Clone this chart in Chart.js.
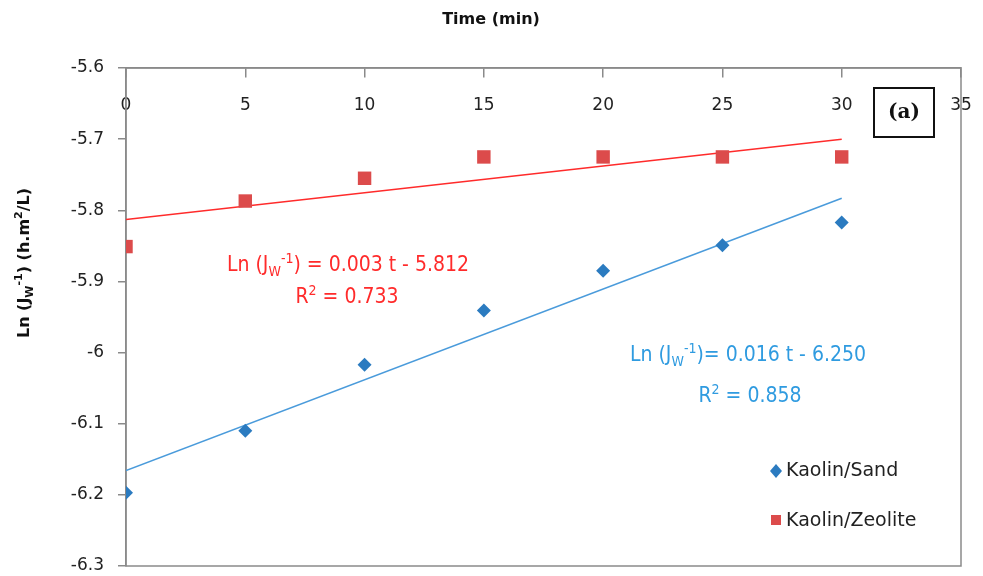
<!DOCTYPE html>
<html>
<head>
<meta charset="utf-8">
<script src="https://cdn.jsdelivr.net/npm/chart.js@4.4.1/dist/chart.umd.min.js"></script>
<style>
  html, body { margin: 0; padding: 0; background: #fff; }
</style>
</head>
<body>
<canvas id="chart" width="983" height="576"></canvas>
<script>
// --- Data ---
const timeMin = [0, 5, 10, 15, 20, 25, 30];
const kaolinSand = [-6.197, -6.110, -6.017, -5.941, -5.885, -5.849, -5.817];
const kaolinZeolite = [-5.851, -5.787, -5.755, -5.725, -5.725, -5.725, -5.725];

// trend line ends at t = 0 and t = 30
const trendTimes = [0, 30];
const sandTrend = [-6.166, -5.783];
const zeoliteTrend = [-5.813, -5.700];

const xTickStep = 5;
const yTickStep = 0.1;

// --- Styles ---
const AXIS_GREY = '#8a8a8a';
const SAND_BLUE = '#2b7bc0';
const SAND_LINE = '#4a9bdb';
const ZEO_RED = '#dc4b4b';
const ZEO_LINE = '#ff2b2b';
const TICK_FONT = { family: '"DejaVu Sans", sans-serif', size: 17 };
const NOTE_FAMILY = '"Liberation Sans Narrow", "DejaVu Sans Condensed", "Liberation Sans", sans-serif';

const toPoints = (xs, ys) => xs.map((x, i) => ({ x: x, y: ys[i] }));

// scales should not push the plot area in; the page padding does the placing
const noScalePadding = scale => {
    scale.paddingLeft = 0;
    scale.paddingRight = 0;
    scale.paddingTop = 0;
    scale.paddingBottom = 0;
};

// draws text with _sub and ^sup pieces, centred on cx
function drawRich(ctx, parts, cx, cy, size, family, weight, color) {
    const fontFor = p => `${weight} ${(p.sub || p.sup) ? Math.round(size * 0.66) : size}px ${family}`;
    const widths = parts.map(p => { ctx.font = fontFor(p); return ctx.measureText(p.t).width; });
    const total = widths.reduce((a, b) => a + b, 0);
    let x = cx - total / 2;
    ctx.fillStyle = color;
    ctx.textAlign = 'left';
    ctx.textBaseline = 'middle';
    parts.forEach((p, i) => {
        ctx.font = fontFor(p);
        const dy = p.sub ? size * 0.32 : p.sup ? -size * 0.34 : 0;
        ctx.fillText(p.t, x, cy + dy);
        x += widths[i];
    });
}

const decorations = {
    id: 'decorations',
    beforeDatasetsDraw(chart) {
        const { ctx, chartArea: a } = chart;
        ctx.save();
        ctx.strokeStyle = AXIS_GREY;
        ctx.lineWidth = 1.5;
        ctx.strokeRect(a.left, a.top, a.right - a.left, a.bottom - a.top);
        ctx.restore();
    },
    afterDraw(chart) {
        const { ctx } = chart;
        ctx.save();

        // axis titles
        ctx.font = 'bold 16px "DejaVu Sans", sans-serif';
        ctx.fillStyle = '#111';
        ctx.textAlign = 'center';
        ctx.textBaseline = 'middle';
        ctx.fillText('Time (min)', 491, 20);

        ctx.save();
        ctx.translate(25, 263);
        ctx.rotate(-Math.PI / 2);
        drawRich(ctx, [
            { t: 'Ln (J' }, { t: 'W', sub: true }, { t: '-1', sup: true },
            { t: ') (h.m' }, { t: '2', sup: true }, { t: '/L)' }
        ], 0, 0, 16, '"DejaVu Sans", sans-serif', 'bold', '#111');
        ctx.restore();

        // trend equations
        drawRich(ctx, [
            { t: 'Ln (J' }, { t: 'W', sub: true }, { t: '-1', sup: true }, { t: ') = 0.003 t - 5.812' }
        ], 348, 266, 21, NOTE_FAMILY, 'normal', ZEO_LINE);
        drawRich(ctx, [{ t: 'R' }, { t: '2', sup: true }, { t: ' = 0.733' }], 347, 298, 21, NOTE_FAMILY, 'normal', ZEO_LINE);
        drawRich(ctx, [
            { t: 'Ln (J' }, { t: 'W', sub: true }, { t: '-1', sup: true }, { t: ')= 0.016 t - 6.250' }
        ], 748, 356, 21, NOTE_FAMILY, 'normal', '#2f9be0');
        drawRich(ctx, [{ t: 'R' }, { t: '2', sup: true }, { t: ' = 0.858' }], 750, 397, 21, NOTE_FAMILY, 'normal', '#2f9be0');

        // legend
        ctx.fillStyle = SAND_BLUE;
        ctx.beginPath();
        ctx.moveTo(776, 464); ctx.lineTo(782, 471); ctx.lineTo(776, 478); ctx.lineTo(770, 471);
        ctx.closePath();
        ctx.fill();
        ctx.fillStyle = ZEO_RED;
        ctx.fillRect(771, 515, 10, 10);
        ctx.font = '19px "DejaVu Sans", sans-serif';
        ctx.fillStyle = '#222';
        ctx.textAlign = 'left';
        ctx.textBaseline = 'middle';
        ctx.fillText('Kaolin/Sand', 786, 471);
        ctx.fillText('Kaolin/Zeolite', 786, 521);

        // (a) label box
        ctx.fillStyle = '#fff';
        ctx.fillRect(874, 88, 60, 49);
        ctx.strokeStyle = '#111';
        ctx.lineWidth = 2;
        ctx.strokeRect(874, 88, 60, 49);
        ctx.font = 'bold 20px "DejaVu Serif", "Liberation Serif", serif';
        ctx.fillStyle = '#111';
        ctx.textAlign = 'center';
        ctx.fillText('(a)', 904, 113);

        ctx.restore();
    }
};

new Chart(document.getElementById('chart'), {
    type: 'scatter',
    data: {
        datasets: [
            {
                label: 'Kaolin/Sand',
                data: toPoints(timeMin, kaolinSand),
                pointStyle: 'rectRot',
                pointRadius: 7,
                backgroundColor: SAND_BLUE,
                borderColor: SAND_BLUE,
                borderWidth: 0,
                order: 1
            },
            {
                label: 'Kaolin/Zeolite',
                data: toPoints(timeMin, kaolinZeolite),
                pointStyle: 'rect',
                pointRadius: 9.5,
                backgroundColor: ZEO_RED,
                borderColor: ZEO_RED,
                borderWidth: 0,
                order: 1
            },
            {
                label: 'Sand trend',
                data: toPoints(trendTimes, sandTrend),
                showLine: true,
                borderColor: SAND_LINE,
                borderWidth: 1.5,
                pointRadius: 0,
                order: 2
            },
            {
                label: 'Zeolite trend',
                data: toPoints(trendTimes, zeoliteTrend),
                showLine: true,
                borderColor: ZEO_LINE,
                borderWidth: 1.5,
                pointRadius: 0,
                order: 2
            }
        ]
    },
    options: {
        responsive: false,
        animation: false,
        devicePixelRatio: 1,
        layout: { padding: { left: 0, right: 22, top: 68, bottom: 10 } },
        plugins: {
            legend: { display: false },
            tooltip: { enabled: false },
            title: { display: false }
        },
        scales: {
            x: {
                type: 'linear',
                position: { y: -5.6 },
                min: 0,
                max: 35,
                ticks: { stepSize: xTickStep, autoSkip: false, maxRotation: 0, padding: 18, color: '#222', font: TICK_FONT },
                grid: { drawOnChartArea: false, tickLength: 9, color: AXIS_GREY, lineWidth: 1.5 },
                border: { color: AXIS_GREY, width: 1.5 },
                afterFit: noScalePadding
            },
            y: {
                min: -6.3,
                max: -5.6,
                ticks: {
                    stepSize: yTickStep,
                    padding: 14,
                    color: '#222',
                    font: TICK_FONT,
                    callback: v => String(Number(v.toFixed(1)))
                },
                grid: { drawOnChartArea: false, tickLength: 8, color: AXIS_GREY, lineWidth: 1.5 },
                border: { color: AXIS_GREY, width: 1.5 },
                afterFit: scale => { scale.width = 126; noScalePadding(scale); }
            }
        }
    },
    plugins: [decorations]
});
</script>
</body>
</html>
